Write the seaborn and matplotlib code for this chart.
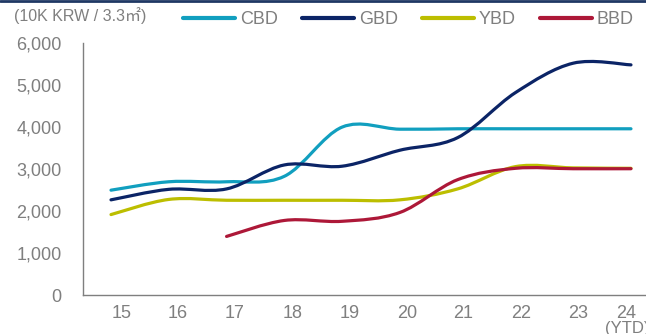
import numpy as np
import pandas as pd
import matplotlib
matplotlib.use("Agg")
import matplotlib.pyplot as plt
import seaborn as sns
from matplotlib.path import Path
from matplotlib.patches import PathPatch
from matplotlib.lines import Line2D
from matplotlib.transforms import ScaledTranslation

# ---- data ----
years = [15, 16, 17, 18, 19, 20, 21, 22, 23, 24]
year_labels = ["15", "16", "17", "18", "19", "20", "21", "22", "23", "24"]
cbd = [2500, 2700, 2700, 2830, 4000, 3950, 3960, 3960, 3960, 3960]
gbd = [2270, 2520, 2530, 3100, 3070, 3450, 3750, 4820, 5520, 5480]
ybd = [1920, 2280, 2260, 2260, 2260, 2270, 2530, 3060, 3030, 3020]
bbd = [None, None, 1400, 1780, 1760, 1970, 2750, 3020, 3010, 3010]
series_names = ["CBD", "GBD", "YBD", "BBD"]
y_ticks = [0, 1000, 2000, 3000, 4000, 5000, 6000]
unit_label = "(10K KRW / 3.3㎡)"

colors = {"CBD": "#119fbf", "GBD": "#0b2466", "YBD": "#bcbe00", "BBD": "#ad1838"}
grey = "#7f7f7f"

# layout: horizontal pixel offsets of the year labels relative to their data position
label_offsets_px = [11, 9, 8.5, 8.5, 8, 7, 5.5, 5.5, 5, -5]

rows = []
for name, vals in zip(series_names, [cbd, gbd, ybd, bbd]):
    for yr, v in zip(years, vals):
        if v is not None:
            rows.append({"year": yr, "value": v, "district": name})
df = pd.DataFrame(rows)

sns.set_style("white")
plt.rcParams["font.family"] = ["Liberation Sans", "Noto Sans CJK KR", "DejaVu Sans"]

fig = plt.figure(figsize=(6.46, 3.34), dpi=100)
ax = fig.add_axes([82.7 / 646, 1 - 295.3 / 334, 1 - 82.7 / 646, (295.3 - 43) / 334])

sns.lineplot(data=df, x="year", y="value", hue="district", hue_order=series_names,
             palette=colors, linewidth=2.3, legend=False, ax=ax)


def smooth_path(xs, ys):
    pts = np.column_stack([xs, ys]).astype(float)
    n = len(pts)
    verts = [pts[0]]
    codes = [Path.MOVETO]
    for i in range(n - 1):
        p0 = pts[i - 1] if i > 0 else pts[i]
        p1 = pts[i]
        p2 = pts[i + 1]
        p3 = pts[i + 2] if i + 2 < n else pts[i + 1]
        c1 = p1 + (p2 - p0) / 6.0
        c2 = p2 - (p3 - p1) / 6.0
        verts += [c1, c2, p2]
        codes += [Path.CURVE4] * 3
    return Path(verts, codes)


# render each seaborn line as a smoothed curve (Excel-style smoothing)
for line, name in zip(list(ax.lines), series_names):
    xs, ys = line.get_xdata(), line.get_ydata()
    line.set_visible(False)
    patch = PathPatch(smooth_path(xs, ys), facecolor="none", edgecolor=colors[name],
                      lw=2.3, capstyle="round", joinstyle="round", zorder=3)
    ax.add_patch(patch)

ax.set_xlim(14.51, 24.26)
ax.set_ylim(0, 6000)
ax.set_yticks(y_ticks)
ax.set_yticklabels([f"{t:,}" for t in y_ticks])
ax.set_xticks(years)
ax.set_xticklabels(year_labels)
ax.set_xlabel("")
ax.set_ylabel("")

for s in ["top", "right"]:
    ax.spines[s].set_visible(False)
for s in ["left", "bottom"]:
    ax.spines[s].set_color(grey)
    ax.spines[s].set_linewidth(1.0)

ax.tick_params(axis="y", direction="out", length=5, width=1, color=grey,
               labelcolor=grey, labelsize=13, pad=10)
ax.tick_params(axis="x", length=0, labelcolor=grey, labelsize=13, pad=7)

for lab, off in zip(ax.get_xticklabels(), label_offsets_px):
    lab.set_transform(lab.get_transform() + ScaledTranslation(off / 100, 0, fig.dpi_scale_trans))

fig.text(627 / 646, 1 - 321 / 334, "(YTD)", ha="center", va="top", fontsize=12, color=grey)
fig.text(14 / 646, 1 - 16 / 334, unit_label, ha="left", va="center", fontsize=11.5, color=grey)

handles = [Line2D([0], [0], color=colors[n], lw=3) for n in series_names]
leg = fig.legend(handles, series_names, ncol=4, loc="center left",
                 bbox_to_anchor=(183 / 646, 1 - 20 / 334), frameon=False,
                 fontsize=13, handlelength=2.9, handletextpad=0.28,
                 columnspacing=1.3, borderaxespad=0, borderpad=0)
for t in leg.get_texts():
    t.set_color(grey)

# top border line
fig.add_artist(Line2D([0, 1], [1 - 0.8 / 334, 1 - 0.8 / 334], transform=fig.transFigure,
                      color="#1f3864", lw=2))

fig.savefig("out.png", dpi=100)
